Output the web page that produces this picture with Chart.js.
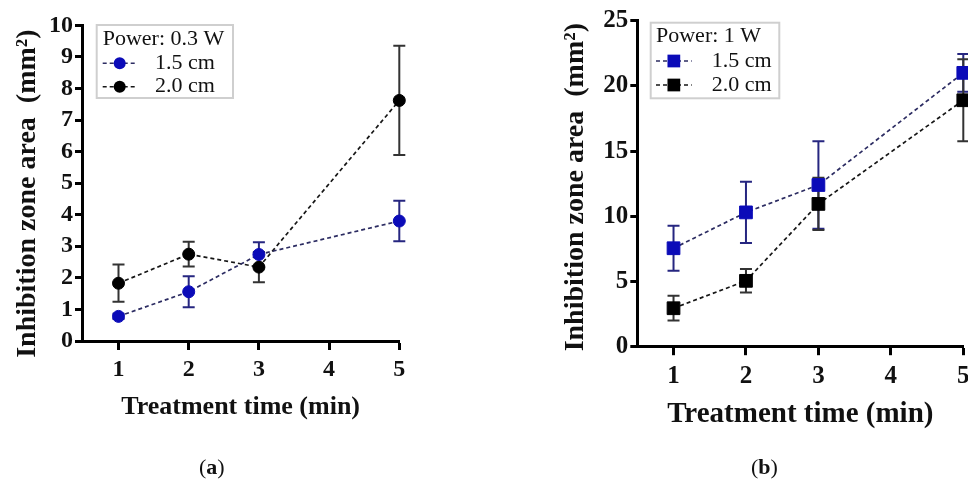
<!DOCTYPE html>
<html>
<head>
<meta charset="utf-8">
<script src="https://cdn.jsdelivr.net/npm/chart.js@4.4.1/dist/chart.umd.min.js"></script>
<style>
  html, body { margin: 0; padding: 0; background: #fff; overflow: hidden; }
  #wrap { position: relative; width: 968px; height: 480px; overflow: hidden; }
  canvas { position: absolute; top: 0; }
  .cap { position: absolute; top: 454px; font: 22px 'Liberation Serif', 'Times New Roman', serif; color: #111; }
</style>
</head>
<body>
<div id="wrap">
  <canvas id="chartA" width="430" height="480" style="left:0"></canvas>
  <canvas id="chartB" width="440" height="480" style="left:550px"></canvas>
  <div class="cap" style="left:199px">(<b>a</b>)</div>
  <div class="cap" style="left:751px">(<b>b</b>)</div>
</div>
<script>
// values
const times = [1, 2, 3, 5];
const xTicks = [1, 2, 3, 4, 5];
const seriesLabels = ['1.5 cm', '2.0 cm'];

// (a) power 0.3 W
const a15 = [0.78, 1.56, 2.74, 3.80];
const a15Err = [0.08, 0.49, 0.39, 0.64];
const a20 = [1.83, 2.75, 2.34, 7.62];
const a20Err = [0.59, 0.39, 0.48, 1.73];
const aYTicks = [0, 1, 2, 3, 4, 5, 6, 7, 8, 9, 10];

// (b) power 1 W
const b15 = [7.55, 10.3, 12.4, 21.0];
const b15Err = [1.72, 2.35, 3.35, 1.45];
const b20 = [2.95, 5.05, 10.95, 18.9];
const b20Err = [0.95, 0.9, 2.0, 3.15];
const bYTicks = [0, 5, 10, 15, 20, 25];

const SERIF = "'Liberation Serif', 'Times New Roman', serif";
const BLUE = '#0b0bb8';

const errorBars = {
  id: 'errorBars',
  beforeDatasetsDraw(chart) {
    const ctx = chart.ctx;
    const xs = chart.scales.x, ys = chart.scales.y;
    chart.data.datasets.forEach(ds => {
      ctx.save();
      ctx.strokeStyle = ds.errColor;
      ctx.lineWidth = 2;
      ds.data.forEach((p, i) => {
        const e = ds.errors[i];
        const px = xs.getPixelForValue(p.x);
        const top = ys.getPixelForValue(p.y + e);
        const bot = ys.getPixelForValue(p.y - e);
        ctx.beginPath();
        ctx.moveTo(px, top); ctx.lineTo(px, bot);
        ctx.moveTo(px - 6, top); ctx.lineTo(px + 6, top);
        ctx.moveTo(px - 6, bot); ctx.lineTo(px + 6, bot);
        ctx.stroke();
      });
      ctx.restore();
    });
  }
};

// legend box drawn inside the plot, like the original
const boxLegend = {
  id: 'boxLegend',
  afterDraw(chart, args, o) {
    const ctx = chart.ctx;
    ctx.save();
    ctx.fillStyle = '#fff';
    ctx.fillRect(o.box[0], o.box[1], o.box[2], o.box[3]);
    ctx.strokeStyle = '#cfcfcf';
    ctx.lineWidth = 2;
    ctx.strokeRect(o.box[0], o.box[1], o.box[2], o.box[3]);
    ctx.fillStyle = '#111';
    ctx.font = '22px ' + SERIF;
    ctx.textBaseline = 'middle';
    ctx.textAlign = 'left';
    ctx.fillText(o.title, o.titleX, o.titleY);
    chart.data.datasets.forEach((ds, i) => {
      const y = o.rows[i];
      ctx.strokeStyle = ds.borderColor;
      ctx.lineWidth = 1.6;
      ctx.setLineDash(ds.borderDash);
      ctx.beginPath();
      ctx.moveTo(o.lineX[0], y); ctx.lineTo(o.lineX[1], y);
      ctx.stroke();
      ctx.setLineDash([]);
      ctx.fillStyle = ds.pointBackgroundColor;
      const mx = (o.lineX[0] + o.lineX[1]) / 2;
      if (ds.pointStyle === 'rect') {
        const s = ds.pointRadius * Math.SQRT1_2;
        ctx.fillRect(mx - s, y - s, 2 * s, 2 * s);
      } else {
        ctx.beginPath();
        ctx.arc(mx, y, ds.pointRadius, 0, Math.PI * 2);
        ctx.fill();
      }
      ctx.fillStyle = '#111';
      ctx.fillText(ds.label, o.textX, y);
    });
    ctx.restore();
  }
};

function series(label, ys, errs, color, lineColor, errColor, style, r) {
  return {
    label: label,
    data: times.map((t, i) => ({ x: t, y: ys[i] })),
    errors: errs,
    errColor: errColor,
    borderColor: lineColor,
    borderWidth: 1.7,
    borderDash: [4, 3],
    pointStyle: style,
    pointRadius: r,
    pointBackgroundColor: color,
    pointBorderColor: color,
    pointBorderWidth: 1,
    clip: false,
    tension: 0
  };
}

function makeChart(id, g) {
  new Chart(document.getElementById(id), {
    type: 'line',
    data: { datasets: g.datasets },
    plugins: [errorBars, boxLegend],
    options: {
      responsive: false,
      animation: false,
      devicePixelRatio: 1,
      layout: { padding: g.padding },
      plugins: {
        legend: { display: false },
        tooltip: { enabled: false },
        boxLegend: g.legend
      },
      scales: {
        x: {
          type: 'linear',
          min: g.xMin, max: 5,
          afterBuildTicks: s => { s.ticks = xTicks.map(v => ({ value: v })); },
          afterFit: s => { s.height = g.xHeight; },
          border: { display: true, width: 3, color: '#000' },
          grid: { drawOnChartArea: false, drawTicks: true, tickLength: g.xTick, tickWidth: 3, tickColor: '#000' },
          ticks: { color: '#111', font: { family: SERIF, size: g.xFont, weight: 'bold' }, padding: g.xPad, maxRotation: 0, autoSkip: false },
          title: { display: true, text: 'Treatment time (min)', color: '#111', font: { family: SERIF, size: g.titleFont, weight: 'bold' }, padding: { top: 0, bottom: g.xTitlePad } }
        },
        y: {
          min: 0, max: g.yTicks[g.yTicks.length - 1],
          afterBuildTicks: s => { s.ticks = g.yTicks.map(v => ({ value: v })); },
          afterFit: s => { s.width = g.yWidth; },
          border: { display: true, width: 3, color: '#000' },
          grid: { drawOnChartArea: false, drawTicks: true, tickLength: 7, tickWidth: 3, tickColor: '#000' },
          ticks: { color: '#111', font: { family: SERIF, size: g.xFont, weight: 'bold' }, padding: 2, autoSkip: false },
          // trailing spaces nudge the centred title down a little, as in the original
          title: { display: true, text: 'Inhibition zone area  (mm²)' + g.yTitleTail, color: '#111', font: { family: SERIF, size: 28, weight: 'bold' }, padding: { top: g.yTitlePad, bottom: 0 } }
        }
      }
    }
  });
}

makeChart('chartA', {
  datasets: [
    series(seriesLabels[0], a15, a15Err, BLUE, '#2c2c62', '#262680', 'circle', 6),
    series(seriesLabels[1], a20, a20Err, '#000', '#161616', '#333', 'circle', 6)
  ],
  yTicks: aYTicks,
  xMin: 0.48,
  padding: { left: 0, top: 25.3, right: 30.7, bottom: 0 },
  xHeight: 139, yWidth: 82,
  xTick: 9, xFont: 24, xPad: 5, titleFont: 26,
  xTitlePad: 56.8, yTitlePad: 10.5, yTitleTail: '\u2002 ',
  legend: { box: [96.7, 25, 136.3, 73], title: 'Power: 0.3 W', titleX: 102.7, titleY: 39.5, lineX: [102.7, 136.7], textX: 155, rows: [63.3, 86.7] }
});

makeChart('chartB', {
  datasets: [
    series(seriesLabels[0], b15, b15Err, BLUE, '#2c2c62', '#262680', 'rect', 9),
    series(seriesLabels[1], b20, b20Err, '#000', '#161616', '#333', 'rect', 9)
  ],
  yTicks: bYTicks,
  xMin: 0.5,
  padding: { left: 0, top: 20.7, right: 26.7, bottom: 0 },
  xHeight: 133.3, yWidth: 87.3,
  xTick: 8.5, xFont: 25, xPad: 6.3, titleFont: 29,
  xTitlePad: 47.6, yTitlePad: 9.3, yTitleTail: ' ',
  legend: { box: [100.7, 22.7, 128.6, 75.6], title: 'Power: 1 W', titleX: 106, titleY: 36.5, lineX: [106, 141.7], textX: 161.7, rows: [61, 85] }
});
</script>
</body>
</html>
